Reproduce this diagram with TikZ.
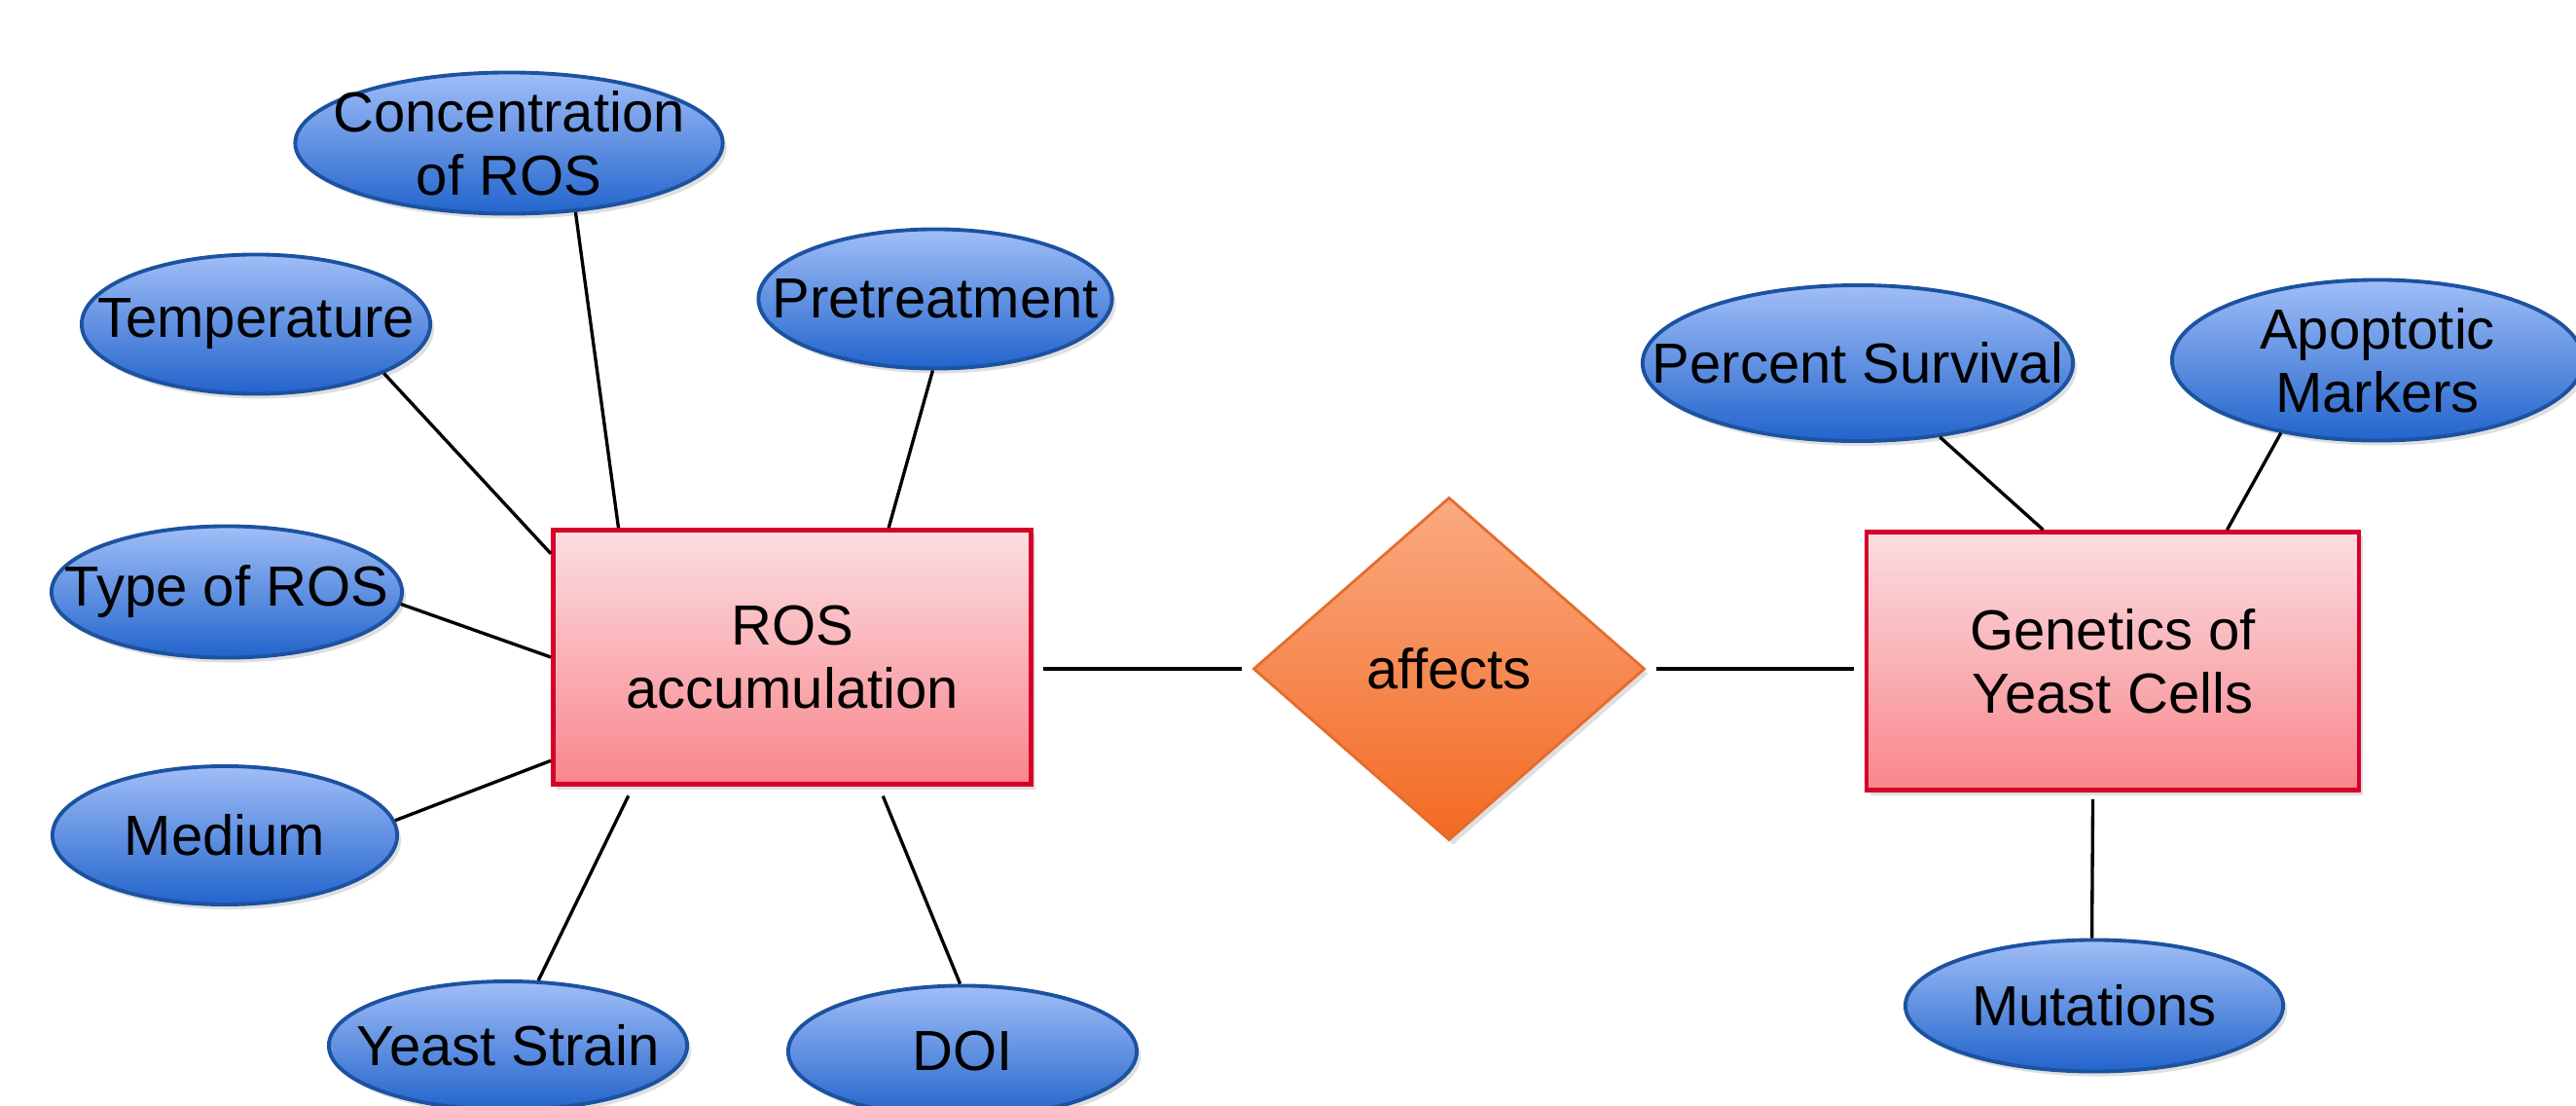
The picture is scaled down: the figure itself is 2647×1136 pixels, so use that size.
\documentclass[tikz,border=0pt]{standalone}
\usepackage{fontspec}
\setmainfont{Liberation Sans}
\usetikzlibrary{shapes.geometric,shadows,calc,positioning}

\definecolor{attrTop}{RGB}{160,190,247}
\definecolor{attrBot}{RGB}{34,100,204}
\definecolor{attrLine}{RGB}{28,82,160}
\definecolor{entTop}{RGB}{251,222,225}
\definecolor{entBot}{RGB}{248,134,140}
\definecolor{entLine}{RGB}{214,0,42}
\definecolor{relTop}{RGB}{250,170,130}
\definecolor{relBot}{RGB}{243,106,34}
\definecolor{relLine}{RGB}{228,108,48}

\tikzset{
  attr/.style={ellipse, draw=attrLine, line width=1.1pt, top color=attrTop, bottom color=attrBot,
    inner sep=0pt, drop shadow={opacity=0.25, shadow xshift=0.04cm, shadow yshift=-0.05cm}},
  attrtext/.style={font=\fontsize{16.5}{18.5}\selectfont, align=center, inner sep=0pt},
  entity/.style={rectangle, draw=entLine, line width=1.3pt, top color=entTop, bottom color=entBot,
    minimum width=4.91cm, minimum height=2.61cm, align=center, font=\fontsize{16.5}{18.5}\selectfont,
    drop shadow={opacity=0.25, shadow xshift=0.04cm, shadow yshift=-0.05cm}},
  rel/.style={diamond, draw=relLine, line width=0.8pt, top color=relTop, bottom color=relBot,
    minimum width=4.02cm, minimum height=3.52cm, inner sep=0pt, font=\fontsize{16.5}{18.5}\selectfont,
    drop shadow={opacity=0.25, shadow xshift=0.04cm, shadow yshift=-0.05cm}},
  link/.style={line width=0.95pt},
  hlink/.style={line width=1.4pt, shorten <=3pt, shorten >=3pt},
}

\begin{document}
\begin{tikzpicture}[x=0.01cm, y=-0.01cm]
\useasboundingbox (0,0) rectangle (2647,1136);

            % entities and the relation
            \draw(814,675) node[entity] (ros) {ROS\\accumulation};
            \draw(1489,687) node[rel] (aff) {affects};
            \draw(2171,679) node[entity, minimum width=5.06cm, minimum height=2.65cm] (gen) {Genetics of\\Yeast Cells};

            % attributes of ROS accumulation
            \draw(523,147) node[attr, minimum width=4.39cm, minimum height=1.45cm, label={[attrtext]center:{Concentration\\of ROS}}] (conc) {};
            \draw(263,333) node[attr, minimum width=3.58cm, minimum height=1.43cm, label={[attrtext]center:Temperature}] (temp) {};
            \draw(961,307) node[attr, minimum width=3.63cm, minimum height=1.43cm, label={[attrtext]center:Pretreatment}] (pre) {};
            \draw(233,608) node[attr, minimum width=3.60cm, minimum height=1.35cm, label={[attrtext]center:Type of ROS}] (type) {};
            \draw(231,858) node[attr, minimum width=3.54cm, minimum height=1.42cm, label={[attrtext]center:Medium}] (med) {};
            \draw(522,1074) node[attr, minimum width=3.68cm, minimum height=1.32cm, label={[attrtext]center:Yeast Strain}] (strain) {};
            \draw(989,1080) node[attr, minimum width=3.58cm, minimum height=1.35cm, label={[attrtext]center:DOI}] (doi) {};

            % attributes of Genetics of Yeast Cells
            \draw(1909,373) node[attr, minimum width=4.42cm, minimum height=1.60cm, label={[attrtext]center:Percent Survival}] (surv) {};
            \draw(2443,370) node[attr, minimum width=4.22cm, minimum height=1.65cm, label={[attrtext]center:{Apoptotic\\Markers}}] (apo) {};
            \draw(2152,1033) node[attr, minimum width=3.88cm, minimum height=1.35cm, label={[attrtext]center:Mutations}] (mut) {};

            \draw[link] (conc.-46) -- ($(ros.north west)!0.14!(ros.north east)$);
            \draw[link] (temp.-21) -- ($(ros.north west)!0.1!(ros.south west)$);
            \draw[link] (pre.-92) -- ($(ros.north west)!0.7!(ros.north east)$);
            \draw[link] (type.-4) -- (ros.west);
            \draw[link] (med.5) -- ($(ros.north west)!0.9!(ros.south west)$);
            \draw[link, shorten >=3pt] (strain.65) -- ($(ros.south west)!0.17!(ros.south east)$);
            \draw[link, shorten >=3pt] (doi.92) -- ($(ros.south west)!0.68!(ros.south east)$);

            \draw[hlink] (ros.east |- aff.west) -- (aff.west);
            \draw[hlink] (aff.east) -- (aff.east -| gen.west);

            \draw[link] (surv.-42) -- ($(gen.north west)!0.36!(gen.north east)$);
            \draw[link] (apo.217) -- ($(gen.north west)!0.73!(gen.north east)$);
            \draw[link, shorten <=2pt] ($(gen.south west)!0.46!(gen.south east)$) -- (mut.92);

\end{tikzpicture}
\end{document}
